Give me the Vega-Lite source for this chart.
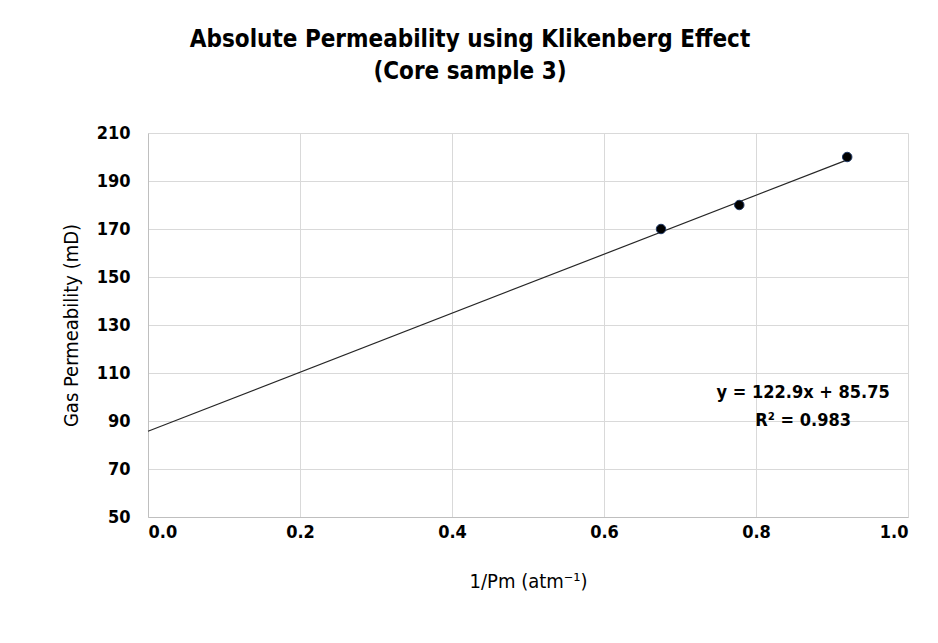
{
  "$schema": "https://vega.github.io/schema/vega-lite/v6.json",
  "autosize": "none",
  "width": 760,
  "height": 384,
  "padding": {"left": 148, "top": 133, "right": 30, "bottom": 126},
  "background": "white",
  "title": {
    "text": ["Absolute Permeability using Klikenberg Effect", "(Core sample 3)"],
    "font": "DejaVu Sans Condensed, sans-serif",
    "fontSize": 24,
    "fontWeight": "bold",
    "color": "#000000",
    "lineHeight": 32,
    "anchor": "middle",
    "dx": -58,
    "offset": 40
  },
  "datasets": {
    "points": [
      {"inv_pm": 0.675, "perm": 170},
      {"inv_pm": 0.778, "perm": 180},
      {"inv_pm": 0.92, "perm": 200}
    ],
    "trend": [
      {"inv_pm": 0.0, "perm": 85.75},
      {"inv_pm": 0.92, "perm": 198.82}
    ],
    "labels": [
      {"inv_pm": 0.862, "perm": 101.5, "label": "y = 122.9x + 85.75"},
      {"inv_pm": 0.862, "perm": 90, "label": "R² = 0.983"}
    ]
  },
  "config": {
    "view": {"stroke": null},
    "axis": {
      "labelFont": "DejaVu Sans Condensed, sans-serif",
      "titleFont": "DejaVu Sans Condensed, sans-serif",
      "labelFontSize": 18,
      "labelFontWeight": "bold",
      "labelColor": "#000000",
      "titleFontSize": 20,
      "titleFontWeight": "normal",
      "titleColor": "#000000",
      "gridColor": "#d9d9d9",
      "gridWidth": 1,
      "domainColor": "#bfbfbf",
      "ticks": false
    }
  },
  "layer": [
    {
      "data": {"name": "trend"},
      "mark": {"type": "line", "color": "#262626", "strokeWidth": 1.2},
      "encoding": {
        "x": {
          "field": "inv_pm", "type": "quantitative",
          "scale": {"domain": [0, 1], "nice": false},
          "axis": {"values": [0, 0.2, 0.4, 0.6, 0.8, 1.0], "format": ".1f", "labelPadding": 6, "title": "1/Pm (atm⁻¹)", "titlePadding": 30}
        },
        "y": {
          "field": "perm", "type": "quantitative",
          "scale": {"domain": [50, 210], "nice": false},
          "axis": {"values": [50, 70, 90, 110, 130, 150, 170, 190, 210], "labelPadding": 18, "title": "Gas Permeability (mD)", "titlePadding": 15}
        }
      }
    },
    {
      "data": {"name": "points"},
      "mark": {"type": "point", "filled": true, "fill": "#000000", "stroke": "#1f3864", "strokeWidth": 1, "size": 90, "opacity": 1},
      "encoding": {
        "x": {"field": "inv_pm", "type": "quantitative"},
        "y": {"field": "perm", "type": "quantitative"}
      }
    },
    {
      "data": {"name": "labels"},
      "mark": {"type": "text", "font": "DejaVu Sans Condensed, sans-serif", "fontSize": 18, "fontWeight": "bold", "color": "#000000", "align": "center", "baseline": "middle"},
      "encoding": {
        "x": {"field": "inv_pm", "type": "quantitative"},
        "y": {"field": "perm", "type": "quantitative"},
        "text": {"field": "label"}
      }
    }
  ]
}
